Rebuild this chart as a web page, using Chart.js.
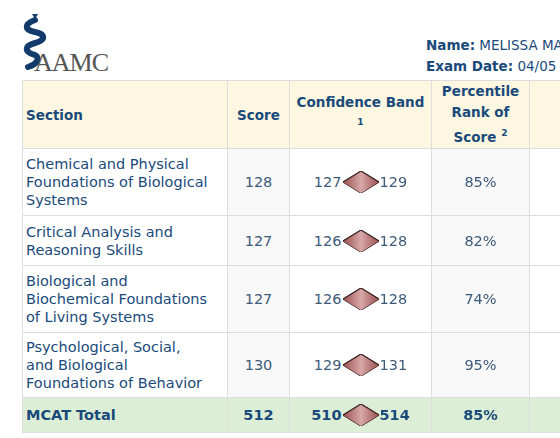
<!DOCTYPE html>
<html><head><meta charset="utf-8">
<script src="https://cdn.jsdelivr.net/npm/chart.js@4"></script>
<style>
body{margin:0;width:560px;height:438px;overflow:hidden;background:#fff;font-family:"DejaVu Sans",sans-serif;position:relative}
#logo{position:absolute;left:22px;top:12px}
#logo .t{position:absolute;left:12px;top:36px;font-family:"Liberation Serif",serif;font-size:26px;color:#555;letter-spacing:-1px}
#info{position:absolute;left:426px;top:35px;font-size:13.5px;color:#1a4a7a;line-height:21px;white-space:nowrap}
table{position:absolute;left:22px;top:80px;width:580px;border-collapse:collapse;font-size:14.5px;color:#3d5b79;table-layout:fixed}
td,th{border:1px solid #ddd;padding:0 3px}
th{background:#fdf7e1;color:#1a4a7a;font-weight:bold;text-align:center;font-size:13.5px}
td.s{color:#1a4a7a;text-align:left;padding-left:3px;line-height:18px;font-size:14.5px;white-space:pre;overflow:hidden}
td.c{text-align:center}
td.g{background:#f8f8f8}
tr.tot td{background:#dcefd6;font-weight:bold;color:#1a4a7a}
.band{display:flex;align-items:center;justify-content:center}
.band canvas{display:block}
</style></head><body>
<div id="logo">
<svg width="30" height="60" viewBox="0 0 30 60"><path d="M10 2 L16 2 L13 7 Z" fill="#123a6a"/><path d="M13 8 C2 12,2 18,13 20 C24 22,24 28,13 31 C2 34,2 40,13 43 C18 45,16 52,6 55" stroke="#123a6a" stroke-width="6" fill="none" stroke-linecap="round"/></svg>
<div class="t">AAMC</div>
</div>
<div id="info"><b>Name:</b> MELISSA MA<br><b>Exam Date:</b> 04/05</div>
<table id="tb">
<colgroup><col style="width:205px"><col style="width:62px"><col style="width:142px"><col style="width:98px"><col style="width:73px"></colgroup>
<tr style="height:68px"><th style="text-align:left">Section</th><th>Score</th><th style="vertical-align:top;padding-top:12px;line-height:18px">Confidence Band<br><span style="font-size:9px">1</span></th><th class="g" style="line-height:21px">Percentile<br>Rank of<br>Score <sup style="font-size:9px">2</sup></th><th></th></tr>
</table>
<script>
const sections=["Chemical and Physical\nFoundations of Biological\nSystems","Critical Analysis and\nReasoning Skills","Biological and\nBiochemical Foundations\nof Living Systems","Psychological, Social,\nand Biological\nFoundations of Behavior","MCAT Total"];
const scores=[128,127,127,130,512];
const bandLow=[127,126,126,129,510];
const bandHigh=[129,128,128,131,514];
const percentiles=["85%","82%","74%","95%","85%"];
const rowHeights=[67,50,67,65,35];
const tb=document.getElementById('tb');
sections.forEach((s,i)=>{
  const tr=document.createElement('tr');tr.style.height=rowHeights[i]+'px';
  if(i===sections.length-1)tr.className='tot';
  tr.innerHTML=`<td class="s">${s}</td><td class="c g">${scores[i]}</td><td class="c"><div class="band"><span>${bandLow[i]}</span><canvas id="c${i}" width="38" height="24" style="width:38px;height:24px"></canvas><span>${bandHigh[i]}</span></div></td><td class="c g">${percentiles[i]}</td><td></td>`;
  tb.appendChild(tr);
  const lo=bandLow[i],hi=bandHigh[i],mid=(lo+hi)/2;
  const grad=(ctx)=>{const ca=ctx.chart.chartArea;if(!ca)return '#b87878';const g=ctx.chart.ctx.createLinearGradient(ca.left,0,ca.right,0);g.addColorStop(0,'#9c5050');g.addColorStop(0.5,'#d8a8a8');g.addColorStop(1,'#9c5050');return g;};
  new Chart(document.getElementById('c'+i),{type:'scatter',
    data:{datasets:[
      {data:[{x:lo,y:0},{x:mid,y:1},{x:hi,y:0}],showLine:true,fill:'+1',backgroundColor:grad,borderColor:'#3a2020',borderWidth:1.3,pointRadius:0,tension:0},
      {data:[{x:lo,y:0},{x:mid,y:-1},{x:hi,y:0}],showLine:true,fill:false,borderColor:'#3a2020',borderWidth:1.3,pointRadius:0,tension:0}]},
    options:{responsive:false,animation:false,layout:{padding:1},plugins:{legend:{display:false},tooltip:{enabled:false}},
      scales:{x:{display:false,min:lo,max:hi},y:{display:false,min:-1,max:1}}}});
});
</script>
</body></html>
